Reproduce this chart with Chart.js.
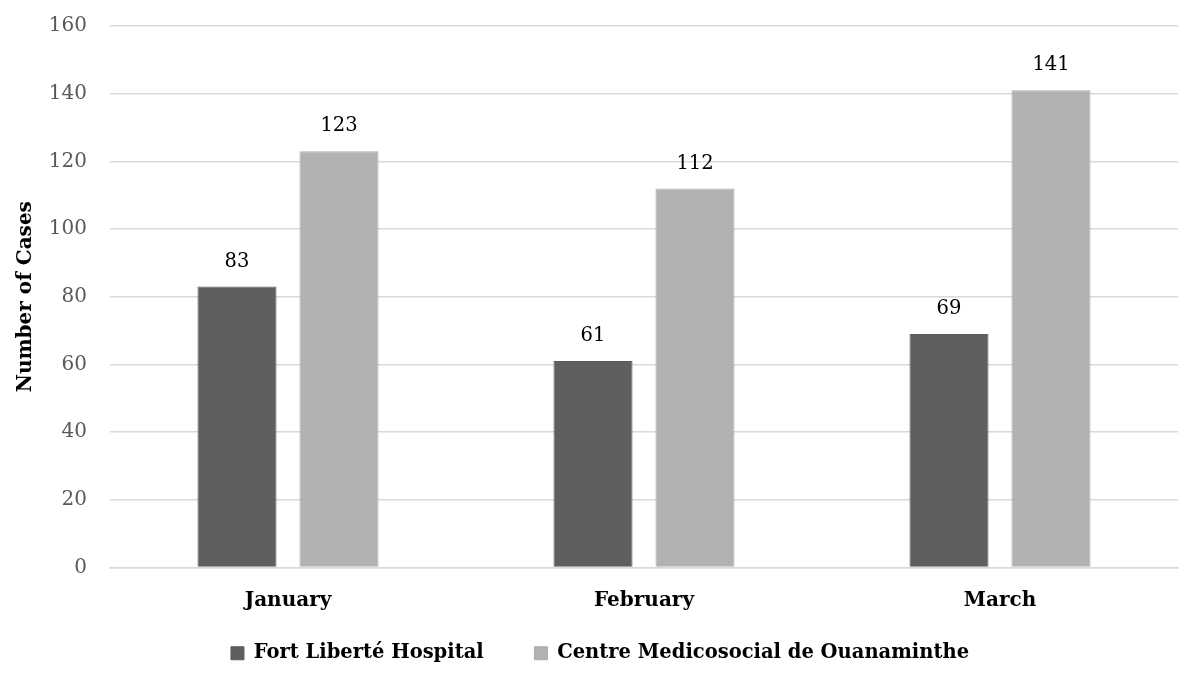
<!DOCTYPE html>
<html>
<head>
<meta charset="utf-8">
<script src="https://cdn.jsdelivr.net/npm/chart.js@4/dist/chart.umd.min.js"></script>
<style>
html,body{margin:0;padding:0;background:#fff;}
#wrap{width:1200px;height:680px;}
</style>
</head>
<body>
<div id="wrap"><canvas id="c" width="1200" height="680"></canvas></div>
<script>
const categories = ["January", "February", "March"];
const fortLiberte = [83, 61, 69];
const ouanaminthe = [123, 112, 141];
const seriesNames = ["Fort Liberté Hospital", "Centre Medicosocial de Ouanaminthe"];
const yTicks = [0, 20, 40, 60, 80, 100, 120, 140, 160];
const yTitle = "Number of Cases";

const SERIF = "'DejaVu Serif', serif";

const valueLabels = {
  id: 'valueLabels',
  afterDatasetsDraw(chart) {
    const ctx = chart.ctx;
    ctx.save();
    ctx.font = "19.5px " + SERIF;
    ctx.fillStyle = "#000";
    ctx.textAlign = "center";
    ctx.textBaseline = "middle";
    chart.data.datasets.forEach((ds, i) => {
      const meta = chart.getDatasetMeta(i);
      meta.data.forEach((el, j) => {
        ctx.fillText(String(ds.data[j]), el.x, el.y - 25);
      });
    });
    ctx.restore();
  }
};

new Chart(document.getElementById('c'), {
  type: 'bar',
  data: {
    labels: categories,
    datasets: [
      { label: seriesNames[0] + "      ", data: fortLiberte, backgroundColor: "#5f5f5f", borderColor: "#5a5a5a", borderWidth: 1 },
      { label: seriesNames[1], data: ouanaminthe, backgroundColor: "#b2b2b2", borderColor: "#acacac", borderWidth: 1 }
    ]
  },
  options: {
    responsive: false,
    devicePixelRatio: 1,
    animation: false,
    layout: { padding: { top: 26, right: 0, left: 0, bottom: 7 } },
    datasets: { bar: { categoryPercentage: 0.573, barPercentage: 0.775 } },
    plugins: {
      legend: {
        position: 'bottom',
        labels: {
          boxWidth: 13, boxHeight: 13, padding: 10,
          color: "#000",
          font: { family: SERIF, size: 19.5, weight: 'bold' }
        }
      },
      tooltip: { enabled: false }
    },
    scales: {
      x: {
        afterFit(scale) { scale.paddingRight = 22; scale.paddingLeft = 0; },
        grid: { display: false, drawTicks: false },
        border: { display: true, color: "#d9d9d9", width: 1.5 },
        ticks: { color: "#000", padding: 21, font: { family: SERIF, size: 20, weight: 'bold' } }
      },
      y: {
        min: 0, max: 160,
        afterBuildTicks(scale) { scale.ticks = yTicks.map(v => ({ value: v })); },
        afterFit(scale) { scale.width = 110; scale.paddingTop = 0; scale.paddingBottom = 0; },
        grid: { color: "#d9d9d9", lineWidth: 1.5, drawTicks: false },
        border: { display: false },
        ticks: { color: "#595959", padding: 23, font: { family: SERIF, size: 20 } },
        title: { display: true, text: yTitle, color: "#000", padding: { top: 14, bottom: 0 }, font: { family: SERIF, size: 20, weight: 'bold' } }
      }
    }
  },
  plugins: [valueLabels]
});
</script>
</body>
</html>
